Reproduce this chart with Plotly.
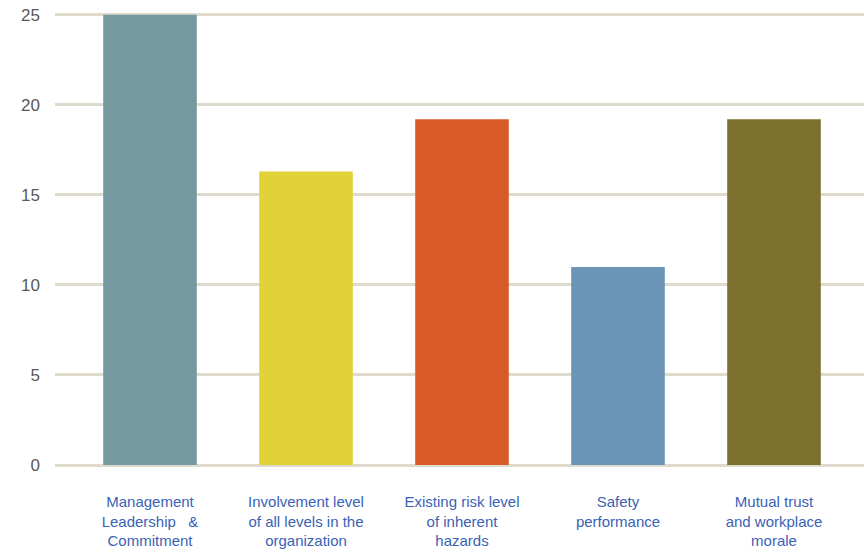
import plotly.graph_objects as go

categories = [
    "Management<br>Leadership\u00a0\u00a0\u00a0&<br>Commitment",
    "Involvement level<br>of all levels in the<br>organization",
    "Existing risk level<br>of inherent<br>hazards",
    "Safety<br>performance",
    "Mutual trust<br>and workplace<br>morale",
]
values = [25.0, 16.3, 19.2, 11.0, 19.2]
colors = ["#76989F", "#E1D23A", "#D85A28", "#6A94B8", "#7D6F2E"]
y_ticks = [0, 5, 10, 15, 20, 25]

fig = go.Figure(
    go.Bar(
        x=list(range(len(categories))),
        y=values,
        marker=dict(color=colors, line=dict(width=0)),
        hoverinfo="skip",
    )
)

fig.update_layout(
    width=864,
    height=557,
    margin=dict(l=55, r=0, t=13, b=92),
    plot_bgcolor="white",
    paper_bgcolor="white",
    bargap=0.4,
    showlegend=False,
    font=dict(family="Liberation Sans, Arial, sans-serif"),
)

fig.update_xaxes(
    range=[-0.609, 4.577],
    tickmode="array",
    tickvals=list(range(len(categories))),
    ticktext=categories,
    tickfont=dict(size=15, color="#3A62B6"),
    showgrid=False,
    zeroline=False,
    showline=False,
    ticks="",
    ticklabelstandoff=26,
    tickangle=0,
)

fig.update_yaxes(
    range=[0, 25.1],
    tickmode="array",
    tickvals=y_ticks,
    ticktext=[str(v) for v in y_ticks],
    tickfont=dict(size=17, color="#595959"),
    showgrid=True,
    gridcolor="#DEDACC",
    gridwidth=2.5,
    zeroline=True,
    zerolinecolor="#DEDACC",
    zerolinewidth=2.5,
    showline=False,
    ticks="",
    ticklabelstandoff=14,
)

fig.write_html("out.html")
